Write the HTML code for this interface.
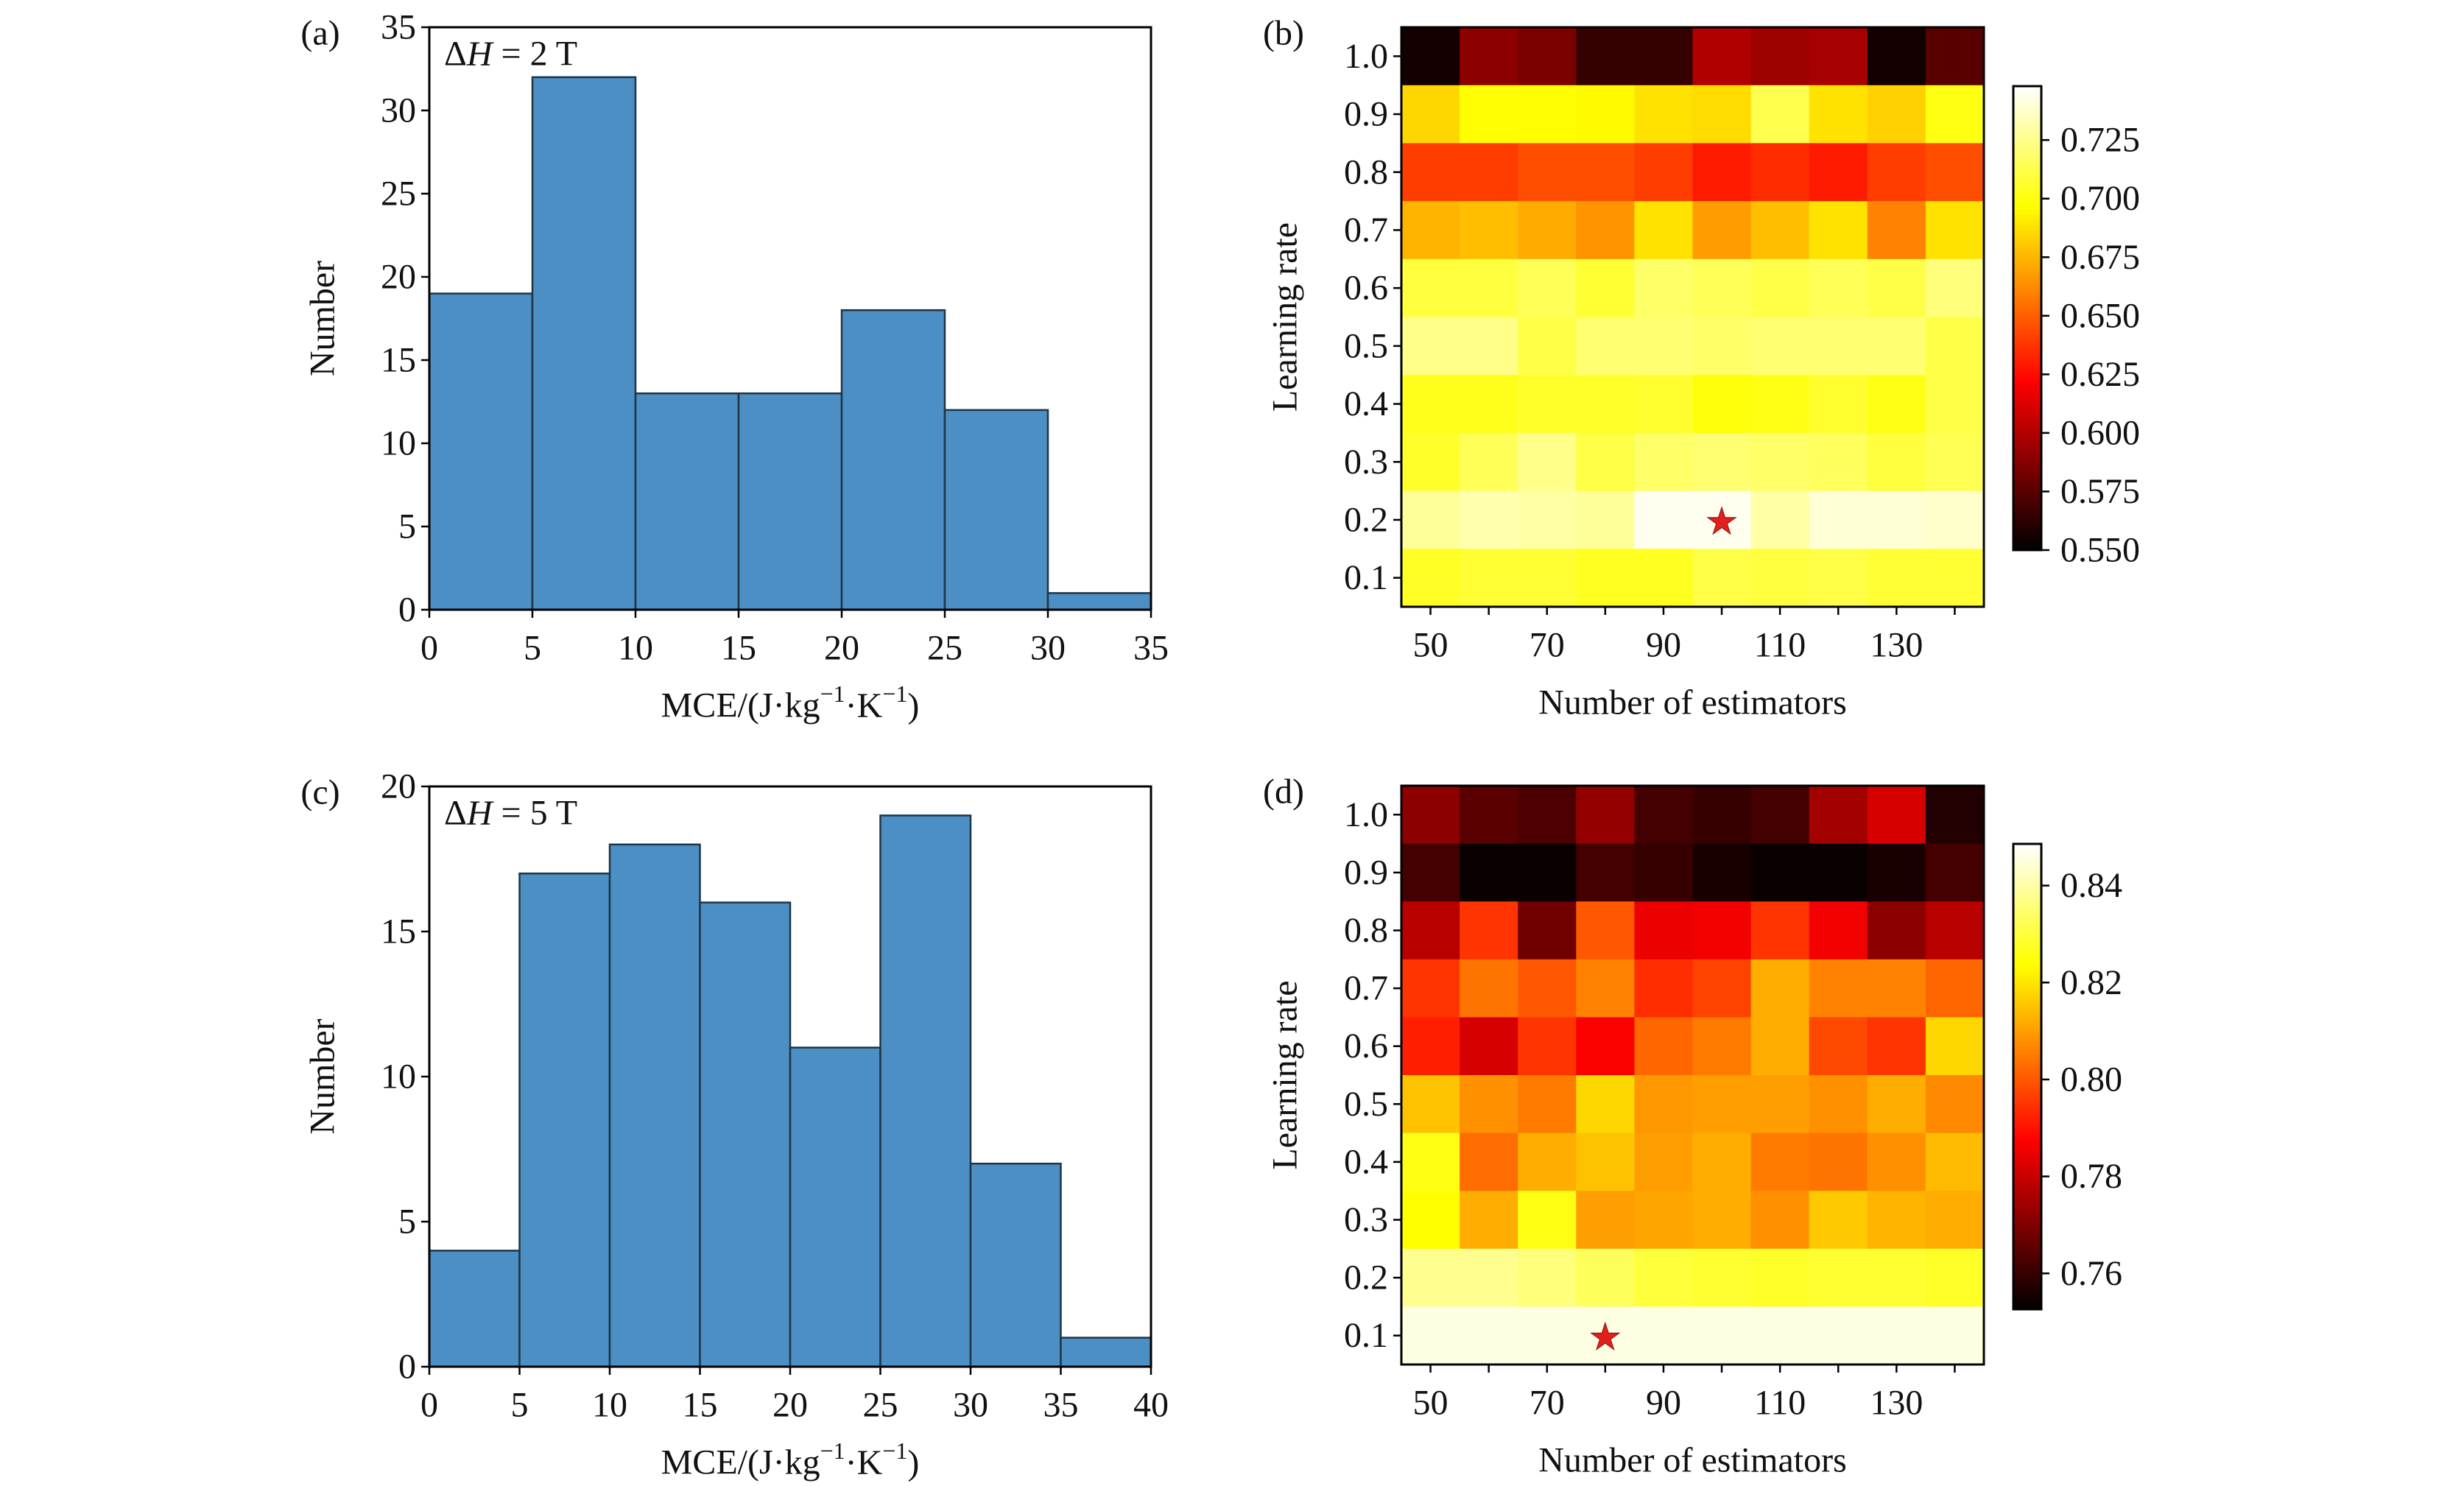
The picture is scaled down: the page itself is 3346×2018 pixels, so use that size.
<!DOCTYPE html>
<html><head><meta charset="utf-8"><style>
html,body{margin:0;padding:0;background:#fff}
svg{display:block}
text{font-family:"Liberation Serif",serif}
</style></head><body>
<svg id="fig" width="3346" height="2018" viewBox="0 0 3346 2018" xmlns="http://www.w3.org/2000/svg"></svg>
<script>
const histA = [19,32,13,13,18,12,1];
const histC = [4,17,18,16,11,19,7,1];
const lrLabels = ["1.0","0.9","0.8","0.7","0.6","0.5","0.4","0.3","0.2","0.1"];
const estimators = [50,60,70,80,90,100,110,120,130,140];
const estTickLabels = [50,70,90,110,130];
const heatB = [
[0.555,0.590,0.585,0.565,0.565,0.600,0.595,0.597,0.555,0.575],
[0.685,0.698,0.696,0.695,0.688,0.686,0.713,0.688,0.683,0.701],
[0.640,0.640,0.645,0.645,0.640,0.630,0.635,0.630,0.640,0.645],
[0.675,0.678,0.672,0.665,0.688,0.668,0.678,0.688,0.660,0.688],
[0.710,0.710,0.715,0.708,0.718,0.715,0.712,0.715,0.712,0.722],
[0.725,0.725,0.712,0.720,0.720,0.718,0.720,0.720,0.720,0.712],
[0.703,0.703,0.706,0.706,0.707,0.700,0.702,0.707,0.702,0.712],
[0.706,0.715,0.725,0.712,0.718,0.720,0.718,0.716,0.710,0.714],
[0.728,0.732,0.730,0.728,0.745,0.745,0.730,0.740,0.740,0.738],
[0.705,0.708,0.708,0.704,0.704,0.712,0.710,0.712,0.708,0.708]];
const heatD = [
[0.772,0.765,0.763,0.773,0.762,0.760,0.762,0.775,0.782,0.757],
[0.762,0.754,0.754,0.762,0.760,0.756,0.754,0.754,0.756,0.762],
[0.778,0.795,0.768,0.800,0.785,0.786,0.795,0.786,0.772,0.778],
[0.795,0.804,0.800,0.806,0.794,0.797,0.812,0.806,0.806,0.802],
[0.792,0.782,0.795,0.787,0.802,0.805,0.812,0.798,0.795,0.818],
[0.815,0.808,0.805,0.818,0.809,0.810,0.810,0.808,0.812,0.807],
[0.826,0.803,0.812,0.815,0.810,0.812,0.805,0.804,0.808,0.814],
[0.824,0.812,0.826,0.810,0.811,0.812,0.808,0.816,0.813,0.812],
[0.838,0.838,0.836,0.833,0.830,0.829,0.828,0.829,0.829,0.828],
[0.846,0.846,0.846,0.846,0.846,0.846,0.846,0.846,0.846,0.846]];
const cbTicksB = [0.550,0.575,0.600,0.625,0.650,0.675,0.700,0.725];
const cbTicksD = [0.76,0.78,0.80,0.82,0.84];
const starB = [5,8]; // [col,row]
const starD = [3,9];

const NS="http://www.w3.org/2000/svg";
const svg=document.getElementById('fig');
const FS=48;
function el(tag,attrs,parent){const e=document.createElementNS(NS,tag);for(const k in attrs)e.setAttribute(k,attrs[k]);(parent||svg).appendChild(e);return e;}
function txt(s,x,y,size,anchor,parent,extra){const t=el('text',Object.assign({x:x,y:y,'font-size':size,'text-anchor':anchor||'middle','dominant-baseline':'central',fill:'#111'},extra||{}),parent);t.textContent=s;return t;}
function hot(t){t=Math.max(0,Math.min(1,t));const r=Math.min(1,t/0.365),g=Math.max(0,Math.min(1,(t-0.365)/0.375)),b=Math.max(0,Math.min(1,(t-0.746)/0.254));return `rgb(${Math.round(r*255)},${Math.round(g*255)},${Math.round(b*255)})`;}

function hist(data,x0,x1,y0,y1,ymax,yticks,name,label,ann){
  const g=el('g',{});  
  const xmax=data.length*5;
  const sx=v=>x0+(x1-x0)*v/xmax, sy=v=>y1-(y1-y0)*v/ymax;
  data.forEach((v,i)=>{const r=el('rect',{x:sx(i*5),y:sy(v),width:sx(5)-sx(0),height:sy(0)-sy(v),fill:'#4b8fc4',stroke:'#1f3547','stroke-width':2.5},g);
     });
  el('rect',{x:x0,y:y0,width:x1-x0,height:y1-y0,fill:'none',stroke:'#000','stroke-width':3},g);
  for(let v=0;v<=xmax;v+=5){el('line',{x1:sx(v),x2:sx(v),y1:y1,y2:y1+11,stroke:'#000','stroke-width':2.5},g);txt(String(v),sx(v),y1+52,FS,'middle',g);}
  yticks.forEach(v=>{el('line',{x1:x0-11,x2:x0,y1:sy(v),y2:sy(v),stroke:'#000','stroke-width':2.5},g);txt(String(v),x0-18,sy(v),FS,'end',g);});
  const xl=el('text',{x:(x0+x1)/2,y:y1+130,'font-size':FS,'text-anchor':'middle','dominant-baseline':'central',fill:'#111'},g);
  xl.innerHTML='MCE/(J·kg<tspan dy="-16" font-size="32">−1</tspan><tspan dy="16">·K</tspan><tspan dy="-16" font-size="32">−1</tspan><tspan dy="16">)</tspan>';
   
  const yl=txt('Number',0,0,FS,'middle',g,{transform:`translate(${x0-145},${(y0+y1)/2}) rotate(-90)`});
   
  const pl=txt(label,x0-148,y0+8,FS,'middle',g);  
  const an=el('text',{x:x0+20,y:y0+36,'font-size':FS,'dominant-baseline':'central',fill:'#111'},g);
  an.innerHTML='Δ<tspan font-style="italic">H</tspan> = '+ann+' T';
   
}

function heat(data,x0,x1,y0,y1,vmin,vmax,cbx,cby0,cby1,cbTicks,cbDec,star,name,label){
  const g=el('g',{});  
  const nr=data.length,nc=data[0].length,cw=(x1-x0)/nc,ch=(y1-y0)/nr;
  const norm=v=>(v-vmin)/(vmax-vmin);
  data.forEach((row,r)=>row.forEach((v,c)=>{const e=el('rect',{x:x0+c*cw,y:y0+r*ch,width:cw+0.6,height:ch+0.6,fill:hot(norm(v))},g);
     }));
  el('rect',{x:x0,y:y0,width:x1-x0,height:y1-y0,fill:'none',stroke:'#000','stroke-width':3},g);
  estimators.forEach((e,c)=>{const x=x0+(c+0.5)*cw;el('line',{x1:x,x2:x,y1:y1,y2:y1+11,stroke:'#000','stroke-width':2.5},g);
    if(estTickLabels.includes(e))txt(String(e),x,y1+52,FS,'middle',g);});
  lrLabels.forEach((l,r)=>{const y=y0+(r+0.5)*ch;el('line',{x1:x0-11,x2:x0,y1:y,y2:y,stroke:'#000','stroke-width':2.5},g);txt(l,x0-18,y,FS,'end',g);});
  const st=txt('★',x0+(star[0]+0.5)*cw,y0+(star[1]+0.5)*ch+2,50,'middle',g,{fill:'#e0201b',stroke:'#8a1010','stroke-width':1});
   
  const xl=txt('Number of estimators',(x0+x1)/2,y1+130,FS,'middle',g);  
  const yl=txt('Learning rate',0,0,FS,'middle',g,{transform:`translate(${x0-158},${(y0+y1)/2}) rotate(-90)`});  
  const pl=txt(label,x0-160,y0+8,FS,'middle',g);  
  const cb=el('g',{},g);  
  const N=120,h=(cby1-cby0)/N;
  for(let i=0;i<N;i++){el('rect',{x:cbx,y:cby1-(i+1)*h,width:38,height:h+0.6,fill:hot((i+0.5)/N)},cb);}
  el('rect',{x:cbx,y:cby0,width:38,height:cby1-cby0,fill:'none',stroke:'#000','stroke-width':3},cb);
  cbTicks.forEach(v=>{let y=cby1-(cby1-cby0)*norm(v);y=Math.min(cby1,Math.max(cby0,y));el('line',{x1:cbx+38,x2:cbx+49,y1:y,y2:y,stroke:'#000','stroke-width':2.5},cb);txt(v.toFixed(cbDec),cbx+64,y,FS,'start',cb);});
}

hist(histA,583,1563,37,828,35,[0,5,10,15,20,25,30,35],'histogram-2t','(a)','2');
hist(histC,583,1563,1068,1856,20,[0,5,10,15,20],'histogram-5t','(c)','5');
heat(heatB,1903,2694,37,824,0.550,0.748,2734,117,747,cbTicksB,3,starB,'heatmap-2t','(b)');
heat(heatD,1903,2694,1067,1853,0.7526,0.8486,2734,1146,1778,cbTicksD,2,starD,'heatmap-5t','(d)');
</script>
</body></html>
